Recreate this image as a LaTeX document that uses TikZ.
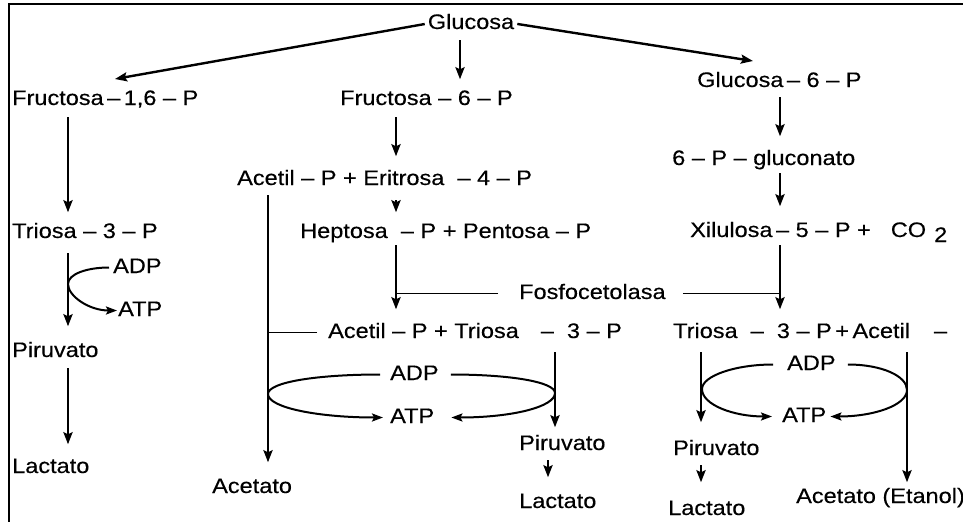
\documentclass[tikz,border=0pt]{standalone}
\usepackage{fontspec}
\setmainfont{Liberation Sans}[FakeStretch=1.12,FakeBold=0.3]
\usetikzlibrary{arrows.meta}

\begin{document}
\begin{tikzpicture}[x=1pt,y=-1pt,
    every node/.style={inner sep=0pt,anchor=base west,text height=15pt,text depth=4pt,
        font=\fontsize{21}{25}\selectfont},
    arr/.style={line width=2.4pt,-{Stealth[length=12pt,width=9pt,inset=2pt]}},
    cyc/.style={line width=2pt,-{Stealth[length=11pt,width=8pt,inset=2pt]}},
    lnk/.style={line width=1.1pt}]
    \useasboundingbox (0,0) rectangle (963,522);
    \draw[line width=2.6pt] (963,4) -- (9,4) -- (9,522);
    %
    \coordinate (cGl) at (460,0);
    \coordinate (cL) at (68,0);
    \coordinate (cA) at (268,0);
    \coordinate (cM) at (396,0);
    \coordinate (cMR) at (555,0);
    \coordinate (cML) at (548,0);
    \coordinate (cG) at (780,0);
    \coordinate (cT) at (701,0);
    \coordinate (cE) at (907,0);
    \coordinate (inFbp) at (115,79);
    \coordinate (inG6p) at (753,61);
    \coordinate (kL) at (68,284);
    \coordinate (kM) at (268,394);
    \coordinate (kMR) at (555,393);
    \coordinate (kT) at (702,389);
    \coordinate (kE) at (907,390);
    %
    \node[anchor=base] (gluc) at (471,29) {Glucosa};
    \node (fbp) at (12,105) {Fructosa\,–\,1,6 – P};
    \node (f6p) at (340,105) {Fructosa – 6 – P};
    \node (g6p) at (697,87) {Glucosa\,– 6 – P};
    \node (acer) at (237,185) {Acetil – P + Eritrosa\ \ – 4 – P};
    \node (glcn) at (672,165) {6 – P – gluconato};
    \node (triL) at (12,238) {Triosa – 3 – P};
    \node (hept) at (300,238) {Heptosa\ \ – P + Pentosa – P};
    \node (xil) at (690,237) {Xilulosa\,– 5 – P +\hspace{20pt}CO\hspace{8pt}\raisebox{-5pt}{2}};
    \node (fosf) at (519,299) {Fosfocetolasa};
    \node (atri) at (328,338) {Acetil – P + Triosa\hspace{22pt}–\ \ 3 – P};
    \node (triR) at (673,338) {Triosa\ \ –\ \ 3 – P\,+\,Acetil\hspace{24pt}–};
    %
    \node (adpL) at (113,273) {ADP};
    \node (atpL) at (118,316) {ATP};
    \node (pirL) at (12,357) {Piruvato};
    \node (lacL) at (12,473) {Lactato};
    \node (acetM) at (212,493) {Acetato};
    \node (adpM) at (390,380) {ADP};
    \node (atpM) at (390,423) {ATP};
    \node (pirM) at (519,450) {Piruvato};
    \node (lacM) at (519,508) {Lactato};
    \node (adpR) at (787,370) {ADP};
    \node (atpR) at (782,422) {ATP};
    \node (pirR) at (673,455) {Piruvato};
    \node (lacR) at (668,515) {Lactato};
    \node (acetR) at (796,503) {Acetato (Etanol)};
    %
    \draw[arr,shorten <=3pt] (gluc.west) -- (inFbp);
    \draw[arr,shorten <=3pt] (gluc.east) -- (inG6p);
    \draw[arr,shorten <=7pt,shorten >=10.5pt] (gluc.south -| cGl) -- (f6p.north -| cGl);
    %
    \draw[arr,shorten <=8pt,shorten >=10.5pt] (fbp.south -| cL) -- (triL.north -| cL);
    \draw[arr,shorten <=11pt,shorten >=15.5pt] (triL.south -| cL) -- (pirL.north -| cL);
    \draw[arr,shorten <=7pt,shorten >=13.5pt] (pirL.south -| cL) -- (lacL.north -| cL);
    \draw[cyc] ([xshift=-4pt]adpL.west) .. controls +(-22,0) and +(0,-10) .. (kL)
        .. controls +(0,12) and +(-28,0) .. ([xshift=-1pt]atpL.west);
    %
    \draw[arr,shorten <=8pt,shorten >=13.5pt] (f6p.south -| cM) -- (acer.north -| cM);
    \draw[arr,shorten <=11pt,shorten >=10.5pt] (acer.south -| cM) -- (hept.north -| cM);
    \draw[arr,shorten <=3pt,shorten >=13.5pt] (hept.south -| cM) -- (atri.north -| cM);
    \draw[arr,shorten <=6pt,shorten >=15.5pt] (acer.south -| cA) -- (acetM.north -| cA);
    \draw[arr,shorten <=10pt,shorten >=7.5pt] (atri.south -| cMR) -- (pirM.north -| cMR);
    \draw[arr,shorten <=6pt,shorten >=15.5pt] (pirM.south -| cML) -- (lacM.north -| cML);
    \draw[cyc] ([xshift=-10pt]adpM.west) .. controls +(-62,0) and +(0,-12) .. (kM)
        .. controls +(0,14) and +(-63,0) .. ([xshift=-7pt]atpM.west);
    \draw[cyc] ([xshift=12pt]adpM.east) .. controls +(60,0) and +(0,-11) .. (kMR)
        .. controls +(0,14) and +(60,0) .. ([xshift=17pt]atpM.east);
    %
    \draw[arr,shorten <=6pt,shorten >=13.5pt] (g6p.south -| cG) -- (glcn.north -| cG);
    \draw[arr,shorten <=4pt,shorten >=15.5pt] (glcn.south -| cG) -- (xil.north -| cG);
    \draw[arr,shorten <=4pt,shorten >=13.5pt] (xil.south -| cG) -- (triR.north -| cG);
    \draw[arr,shorten <=10pt,shorten >=17.5pt] (triR.south -| cT) -- (pirR.north -| cT);
    \draw[arr,shorten <=6pt,shorten >=17.5pt] (pirR.south -| cT) -- (lacR.north -| cT);
    \draw[arr,shorten <=10pt,shorten >=5.5pt] (triR.south -| cE) -- (acetR.north -| cE);
    \draw[cyc] ([xshift=-14pt]adpR.west) .. controls +(-38,0) and +(0,-13) .. (kT)
        .. controls +(0,16) and +(-38,0) .. ([xshift=-10pt]atpR.west);
    \draw[cyc] ([xshift=12pt]adpR.east) .. controls +(34,0) and +(0,-14) .. (kE)
        .. controls +(0,15) and +(44,0) .. ([xshift=4pt]atpR.east);
    %
    \draw[lnk,shorten <=21pt] (fosf.west) -- (fosf.west -| cM);
    \draw[lnk,shorten <=17pt] (fosf.east) -- (fosf.east -| cG);
    \draw[lnk,shorten <=11pt] (atri.west) -- (atri.west -| cA);
\end{tikzpicture}
\end{document}
